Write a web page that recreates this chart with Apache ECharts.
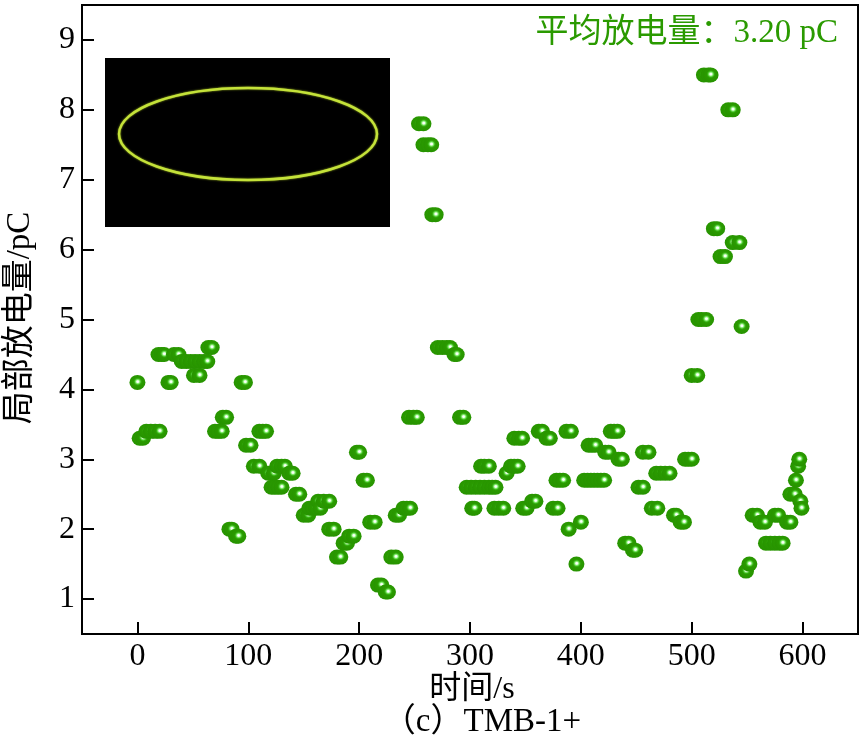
<!DOCTYPE html>
<html>
<head>
<meta charset="utf-8">
<script src="https://cdn.jsdelivr.net/npm/echarts@6/dist/echarts.min.js"></script>
<style>
html,body{margin:0;padding:0;background:#fff;}
#chart{width:861px;height:742px;}
</style>
</head>
<body>
<div id="chart"></div>
<script>
// ---- data (time in s, discharge in pC) ----
var times = [
  0, 2, 5, 8, 12, 16, 20, 19, 22, 24, 28, 30, 33, 37,
  40, 44, 48, 52, 56, 60, 63, 51, 56, 64, 67,
  70, 73, 76, 77, 80, 83, 85, 89, 91, 94, 97, 98, 102,
  105, 110, 110, 113, 116, 118, 123, 121, 124, 127, 130, 126, 130, 133,
  137, 140, 143, 146, 150, 154, 155, 158, 161, 165, 163, 168, 173,
  173, 177, 180, 183, 186, 189, 191, 195, 198, 200, 204, 207, 210, 214,
  217, 220, 224, 226, 229, 233, 233, 236, 240, 243, 246, 245, 249, 252,
  254, 258, 258, 262, 265, 266, 269, 271, 275, 279, 282, 286, 288, 291, 294,
  297, 301, 305, 309, 313, 317, 320, 323, 302, 304, 310, 313, 317,
  322, 326, 330, 333, 337, 340, 343, 340, 344, 347, 348, 351, 356, 359,
  362, 365, 369, 372, 375, 379, 378, 381, 384, 387, 391, 389, 396, 400,
  403, 406, 409, 412, 415, 418, 421, 407, 410, 413, 422, 425, 427, 430, 433,
  434, 437, 440, 443, 447, 449, 452, 456, 456, 461, 464, 469,
  468, 472, 476, 480, 484, 486, 490, 493, 494, 497, 500, 500, 505,
  506, 509, 513, 511, 515, 517, 520, 523, 526, 530, 533, 537, 537, 543, 545,
  549, 552, 555, 559, 562, 566, 567, 571, 575, 579, 582, 575, 578,
  586, 589, 589, 593, 594, 596, 597, 598, 599
];
var charges = [
  4.1, 3.3, 3.3, 3.4, 3.4, 3.4, 3.4, 4.5, 4.5, 4.5, 4.1, 4.1, 4.5, 4.5,
  4.4, 4.4, 4.4, 4.4, 4.4, 4.4, 4.4, 4.2, 4.2, 4.6, 4.6,
  3.4, 3.4, 3.4, 3.6, 3.6, 2.0, 2.0, 1.9, 1.9, 4.1, 4.1, 3.2, 3.2,
  2.9, 2.9, 3.4, 3.4, 3.4, 2.8, 2.8, 2.6, 2.6, 2.6, 2.6, 2.9, 2.9, 2.9,
  2.8, 2.8, 2.5, 2.5, 2.2, 2.2, 2.3, 2.3, 2.3, 2.3, 2.4, 2.4, 2.4,
  2.0, 2.0, 1.6, 1.6, 1.8, 1.8, 1.9, 1.9, 3.1, 3.1, 2.7, 2.7, 2.1, 2.1,
  1.2, 1.2, 1.1, 1.1, 1.6, 1.6, 2.2, 2.2, 2.3, 2.3, 2.3, 3.6, 3.6, 3.6,
  7.8, 7.8, 7.5, 7.5, 7.5, 6.5, 6.5, 4.6, 4.6, 4.6, 4.6, 4.5, 4.5, 3.6, 3.6,
  2.6, 2.6, 2.6, 2.6, 2.6, 2.6, 2.6, 2.6, 2.3, 2.3, 2.9, 2.9, 2.9,
  2.3, 2.3, 2.3, 2.8, 2.9, 2.9, 2.9, 3.3, 3.3, 3.3, 2.3, 2.3, 2.4, 2.4,
  3.4, 3.4, 3.3, 3.3, 2.3, 2.3, 2.7, 2.7, 2.7, 3.4, 3.4, 2.0, 1.5, 2.1,
  2.7, 2.7, 2.7, 2.7, 2.7, 2.7, 2.7, 3.2, 3.2, 3.2, 3.1, 3.1, 3.4, 3.4, 3.4,
  3.0, 3.0, 1.8, 1.8, 1.7, 1.7, 2.6, 2.6, 3.1, 3.1, 2.3, 2.3,
  2.8, 2.8, 2.8, 2.8, 2.2, 2.2, 2.1, 2.1, 3.0, 3.0, 3.0, 4.2, 4.2,
  5.0, 5.0, 5.0, 8.5, 8.5, 8.5, 6.3, 6.3, 5.9, 5.9, 8.0, 8.0, 6.1, 6.1, 4.9,
  1.4, 1.5, 2.2, 2.2, 2.1, 2.1, 1.8, 1.8, 1.8, 1.8, 1.8, 2.2, 2.2,
  2.1, 2.1, 2.5, 2.5, 2.7, 2.9, 3.0, 2.4, 2.3
];
var xTicks = [0, 100, 200, 300, 400, 500, 600];
var yTicks = [1, 2, 3, 4, 5, 6, 7, 8, 9];
var xName = '时间/s';
var yName = '局部放电量/pC';
var caption = '（c）TMB-1+';
var avgText = '平均放电量：3.20 pC';

// build points in time order (stable)
var pts = times.map(function (t, i) { return { t: t, v: charges[i], i: i }; });
pts.sort(function (a, b) { return a.t - b.t || a.i - b.i; });
var seriesData = pts.map(function (p) { return [p.t, p.v]; });

var FONT = "'Liberation Serif', 'Noto Sans CJK SC', serif";
var GREEN = '#2a9a00';

var chart = echarts.init(document.getElementById('chart'), null, { renderer: 'canvas' });
var axisCommon = {
  type: 'value',
  axisLine: { show: true, onZero: false, lineStyle: { color: '#000', width: 2 } },
  splitLine: { show: false },
  axisTick: { show: true, inside: true, length: 12, lineStyle: { color: '#000', width: 2 } },
  axisLabel: { color: '#000', fontFamily: FONT, fontSize: 32 }
};
chart.setOption({
  animation: false,
  backgroundColor: '#fff',
  grid: { left: 82, right: 3, top: 5, bottom: 108, show: true, borderColor: '#000', borderWidth: 2, containLabel: false },
  xAxis: echarts.util.merge({
    min: -50, max: 650,
    axisTick: { customValues: xTicks },
    axisLabel: { customValues: xTicks, margin: 7 }
  }, axisCommon),
  yAxis: echarts.util.merge({
    min: 0.5, max: 9.5,
    axisTick: { customValues: yTicks },
    axisLabel: { customValues: yTicks, margin: 7 }
  }, axisCommon),
  series: [{
    type: 'scatter',
    data: seriesData,
    symbol: 'circle',
    symbolSize: [16, 15],
    itemStyle: {
      opacity: 1,
      color: {
        type: 'radial', x: 0.52, y: 0.45, r: 0.5,
        colorStops: [
          { offset: 0, color: '#ffffff' },
          { offset: 0.13, color: '#f2fff0' },
          { offset: 0.26, color: '#86ec70' },
          { offset: 0.42, color: '#36b014' },
          { offset: 0.55, color: '#2a9a00' },
          { offset: 1, color: '#279400' }
        ]
      }
    }
  }],
  graphic: [
    { type: 'rect', shape: { x: 105, y: 58, width: 285, height: 169 }, style: { fill: '#000' }, z: 5 },
    { type: 'ellipse', shape: { cx: 248, cy: 134, rx: 129, ry: 46 },
      style: { fill: null, stroke: '#c4e23a', lineWidth: 2.5, shadowBlur: 2, shadowColor: '#a8c020' }, z: 6 },
    { type: 'text', x: 838, y: 33, z: 10,
      style: { text: avgText, fill: GREEN, font: "33px " + FONT, align: 'right', verticalAlign: 'middle' } },
    { type: 'text', x: 472, y: 690, z: 10,
      style: { text: xName, fill: '#000', font: "32px " + FONT, align: 'center', verticalAlign: 'middle' } },
    { type: 'text', x: 482, y: 722, z: 10,
      style: { text: caption, fill: '#000', font: "33px " + FONT, align: 'center', verticalAlign: 'middle' } },
    { type: 'text', x: 20, y: 318, rotation: Math.PI / 2, z: 10,
      style: { text: yName, fill: '#000', font: "33px " + FONT, align: 'center', verticalAlign: 'middle' } }
  ]
});
</script>
</body>
</html>
